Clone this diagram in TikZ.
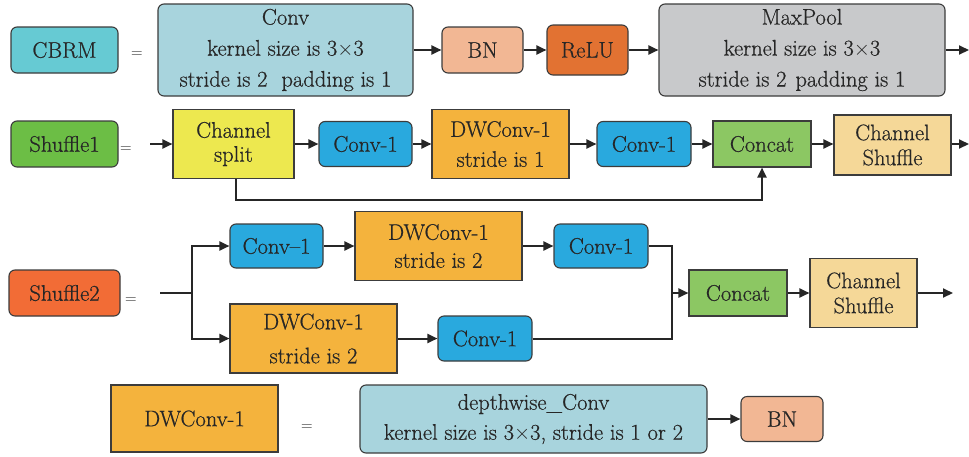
\documentclass[tikz,border=0pt]{standalone}
\usepackage{fontspec}
\newfontfamily\boxfam{Latin Modern Roman}[Ligatures=TeX, FakeBold=0.6]
\usetikzlibrary{arrows.meta}
\definecolor{ink}{HTML}{262626}
\definecolor{edge}{HTML}{3C3C3C}
\definecolor{cbrmc}{HTML}{66CAD3}
\definecolor{convc}{HTML}{A8D4DD}
\definecolor{bnc}{HTML}{F2B794}
\definecolor{reluc}{HTML}{E27232}
\definecolor{poolc}{HTML}{C8C9CB}
\definecolor{shufa}{HTML}{6CBE45}
\definecolor{splitc}{HTML}{EDE84F}
\definecolor{conv1c}{HTML}{29A9DE}
\definecolor{dwc}{HTML}{F4B33D}
\definecolor{catc}{HTML}{8CC763}
\definecolor{csc}{HTML}{F5D898}
\definecolor{shufb}{HTML}{F26C36}
\newcommand{\boxfont}[1]{\boxfam\fontsize{22.5}{#1}\selectfont}
\begin{document}
\begin{tikzpicture}[x=1pt,y=-1pt,
  box/.style={draw=edge, line width=1.1pt, text=ink, align=center, inner sep=0pt,
    font=\boxfont{24}},
  rbox/.style={box, rounded corners=6pt},
  eqsign/.style={text=ink, inner sep=0pt, font=\fontsize{16}{18}\selectfont},
  wire/.style={draw=ink, line width=2pt},
  flow/.style={wire, -{Triangle[length=10pt,width=9pt]}}]
\useasboundingbox (0,0) rectangle (969,456);

% CBRM block
\node[rbox, fill=cbrmc, minimum width=107, minimum height=46] (cbrm) at (64.5,50) {CBRM};
\node[eqsign] (eqa) at (137,55) {=};
\node[rbox, fill=convc, minimum width=255, minimum height=92,
  font=\boxfont{31}] (conv) at (285.5,50)
  {Conv\\kernel size is 3$\times$3\\stride is 2\hspace{14pt}padding is 1};
\node[rbox, fill=bnc, minimum width=81, minimum height=46] (bn) at (482.5,50) {BN};
\node[rbox, fill=reluc, minimum width=81, minimum height=50] (relu) at (587.5,50) {ReLU};
\node[rbox, fill=poolc, minimum width=286, minimum height=92,
  font=\boxfont{31}] (pool) at (802,50)
  {MaxPool\\kernel size is 3$\times$3\\stride is 2\hspace{9pt}padding is 1};
\coordinate (outa) at (969,50);
\draw[flow] (conv.east) -- (bn.west);
\draw[flow] (bn.east) -- (relu.west);
\draw[flow] (relu.east) -- (pool.west);
\draw[flow] (pool.east) -- (outa);

% Shuffle1 block
\node[rbox, fill=shufa, minimum width=107, minimum height=46] (shufA) at (64.5,144) {Shuffle1};
\node[eqsign] (eqb) at (126,150) {=};
\coordinate (inb) at (150,144);
\node[box, fill=splitc, minimum width=121, minimum height=69] (split) at (233.5,144) {Channel\\split};
\node[rbox, fill=conv1c, minimum width=93, minimum height=45] (cA) at (365.5,144) {Conv-1};
\node[box, fill=dwc, minimum width=137, minimum height=69,
  font=\boxfont{30}] (dwA) at (500.5,144) {DWConv-1\\stride is 1};
\node[rbox, fill=conv1c, minimum width=94, minimum height=45] (cB) at (644,144) {Conv-1};
\node[box, fill=catc, minimum width=98, minimum height=46] (catA) at (762,144) {Concat};
\node[box, fill=csc, minimum width=117, minimum height=60,
  font=\boxfont{25}] (csA) at (892.5,145) {Channel\\Shuffle};
\coordinate (outb) at (969,144);
\coordinate (skip) at (236,200);
\draw[flow] (inb) -- (split.west);
\draw[flow] (split.east) -- (cA.west);
\draw[flow] (cA.east) -- (dwA.west);
\draw[flow] (dwA.east) -- (cB.west);
\draw[flow] (cB.east) -- (catA.west);
\draw[flow] (catA.east) -- (csA.west |- catA.east);
\draw[flow] (csA.east |- outb) -- (outb);
\draw[flow] (split.south -| skip) -- (skip) -| (catA.south);

% Shuffle2 block
\node[rbox, fill=shufb, minimum width=111, minimum height=46] (shufB) at (64.5,293) {Shuffle2};
\node[eqsign] (eqc) at (131,301) {=};
\coordinate (inc) at (160,293);
\coordinate (fork) at (192,293);
\node[rbox, fill=conv1c, minimum width=93, minimum height=44] (cC) at (276.5,246) {Conv\textendash1};
\node[box, fill=dwc, minimum width=167, minimum height=69,
  font=\boxfont{28}] (dwB) at (438.5,246) {DWConv-1\\stride is 2};
\node[rbox, fill=conv1c, minimum width=94, minimum height=44] (cD) at (601,246) {Conv-1};
\node[box, fill=dwc, minimum width=167, minimum height=69,
  font=\boxfont{34}] (dwC) at (313.5,338.5) {DWConv-1\\stride is 2};
\node[rbox, fill=conv1c, minimum width=94, minimum height=45] (cE) at (485,338.5) {Conv-1};
\coordinate (merge) at (672,293);
\node[box, fill=catc, minimum width=98, minimum height=46] (catB) at (738,293) {Concat};
\node[box, fill=csc, minimum width=107, minimum height=69,
  font=\boxfont{25}] (csB) at (863.5,293) {Channel\\Shuffle};
\coordinate (outc) at (953,293);
\draw[wire] (inc) -- (fork);
\draw[flow] (fork) |- (cC.west);
\draw[flow] (fork) |- (dwC.west);
\draw[flow] (cC.east) -- (dwB.west);
\draw[flow] (dwB.east) -- (cD.west);
\draw[flow] (dwC.east) -- (cE.west);
\draw[wire] (cD.east) -| (merge);
\draw[wire] (cE.east) -| (merge);
\draw[flow] (merge) -- (catB.west);
\draw[flow] (catB.east) -- (csB.west);
\draw[flow] (csB.east) -- (outc);

% DWConv-1 definition
\node[box, fill=dwc, minimum width=167, minimum height=67] (dwdef) at (194.5,418.5) {DWConv-1};
\node[eqsign] (eqd) at (307,428) {=};
\node[rbox, fill=convc, minimum width=347, minimum height=68,
  font=\boxfont{30}] (dconv) at (533.5,419)
  {depthwise\_Conv\\kernel size is 3$\times$3, stride is 1 or 2};
\node[rbox, fill=bnc, minimum width=82, minimum height=45] (bnB) at (782,419) {BN};
\draw[flow] (dconv.east) -- (bnB.west);
\end{tikzpicture}
\end{document}
